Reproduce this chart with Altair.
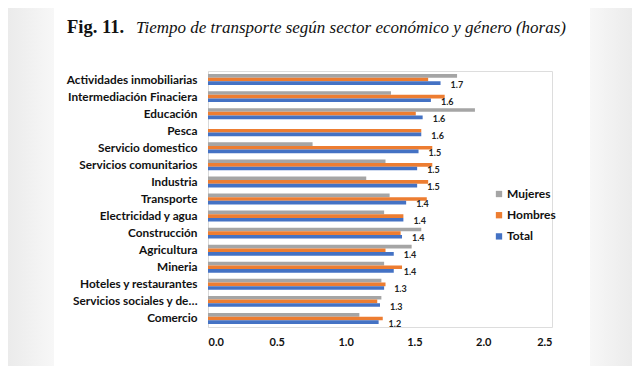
import altair as alt
import pandas as pd

sectors = [
    "Actividades inmobiliarias", "Intermediación Finaciera", "Educación", "Pesca",
    "Servicio domestico", "Servicios comunitarios", "Industria", "Transporte",
    "Electricidad y agua", "Construcción", "Agricultura", "Mineria",
    "Hoteles y restaurantes", "Servicios sociales y de…", "Comercio",
]
mujeres = [1.81, 1.33, 1.94, None, 0.76, 1.29, 1.15, 1.32, 1.28, 1.55, 1.48, 1.28, 1.26, 1.26, 1.10]
hombres = [1.60, 1.72, 1.51, 1.55, 1.63, 1.63, 1.60, 1.59, 1.42, 1.40, 1.29, 1.41, 1.29, 1.23, 1.27]
total = [1.69, 1.62, 1.56, 1.55, 1.53, 1.52, 1.52, 1.44, 1.42, 1.41, 1.35, 1.35, 1.28, 1.25, 1.24]
total_labels = ["1.7", "1.6", "1.6", "1.6", "1.5", "1.5", "1.5", "1.4", "1.4", "1.4", "1.4", "1.4", "1.3", "1.3", "1.2"]
series_names = ["Mujeres", "Hombres", "Total"]
series_colors = ["#A5A5A5", "#ED7D31", "#4472C4"]
x_ticks = [0, 0.5, 1.0, 1.5, 2.0, 2.5]
title_bold = "Fig. 11."
title_italic = "Tiempo de transporte según sector económico y género (horas)"

rows = []
for name, vals in zip(series_names, [mujeres, hombres, total]):
    for s, v in zip(sectors, vals):
        if v is not None:
            rows.append({"sector": s, "serie": name, "valor": v})
df = pd.DataFrame(rows)
lab_df = pd.DataFrame({"sector": sectors, "serie": "Total", "valor": total, "label": total_labels})

x_scale = alt.Scale(domain=[0, 2.5], nice=False, zero=True, padding=0)

y_enc = alt.Y("sector:N", sort=sectors, title=None,
              scale=alt.Scale(paddingInner=0.36, paddingOuter=0.18),
              axis=alt.Axis(labelFont="Lato", labelFontWeight="bold", labelFontSize=11.8,
                            labelColor="#111", ticks=False, labelPadding=11,
                            domainColor="#d9d9d9", labelLimit=200))
yoff = alt.YOffset("serie:N", sort=series_names, scale=alt.Scale(paddingInner=0, paddingOuter=0))

bars = alt.Chart(df).mark_bar().encode(
    x=alt.X("valor:Q", title=None, scale=x_scale,
            axis=alt.Axis(values=x_ticks, format=".1f", labelFont="Lato", labelFontWeight="bold",
                          labelFontSize=11, labelColor="#111", ticks=False, domain=False,
                          grid=False, labelPadding=9)),
    y=y_enc,
    yOffset=yoff,
    color=alt.Color("serie:N", sort=series_names,
                    scale=alt.Scale(domain=series_names, range=series_colors),
                    legend=alt.Legend(title=None, orient="none", legendX=285, legendY=117,
                                      symbolType="square", symbolSize=40, symbolStrokeWidth=0,
                                      labelOffset=2,
                                      labelFont="Lato", labelFontWeight="bold", labelFontSize=12,
                                      labelColor="#111", rowPadding=9.2)),
)

labels = alt.Chart(lab_df).mark_text(align="left", baseline="middle", dx=10, dy=1.5,
                                     font="Lato", fontWeight="bold", fontSize=9, color="#222").encode(
    x=alt.X("valor:Q", scale=x_scale), y=alt.Y("sector:N", sort=sectors),
    yOffset=alt.YOffset("serie:N", sort=series_names),
    text="label:N",
)

one = pd.DataFrame({"a": [0]})
left_shade = alt.Chart(one).mark_rect(
    color=alt.LinearGradient(gradient="linear", x1=0, x2=1, y1=0, y2=0,
                             stops=[alt.GradientStop(color="#ebebeb", offset=0),
                                    alt.GradientStop(color="#f7f7f7", offset=1)])
).encode(x=alt.value(-200), x2=alt.value(-154), y=alt.value(-64), y2=alt.value(295))
right_shade = alt.Chart(one).mark_rect(
    color=alt.LinearGradient(gradient="linear", x1=0, x2=1, y1=0, y2=0,
                             stops=[alt.GradientStop(color="#f7f7f7", offset=0),
                                    alt.GradientStop(color="#ebebeb", offset=1)])
).encode(x=alt.value(382), x2=alt.value(424), y=alt.value(-64), y2=alt.value(295))

t1 = alt.Chart(pd.DataFrame({"t": [title_bold]})).mark_text(
    align="left", baseline="alphabetic", font="Liberation Serif", fontWeight="bold", fontSize=18.5, color="#111"
).encode(x=alt.value(-141), y=alt.value(-38), text="t:N")
t2 = alt.Chart(pd.DataFrame({"t": [title_italic]})).mark_text(
    align="left", baseline="alphabetic", font="Liberation Serif", fontStyle="italic", fontSize=17, color="#111"
).encode(x=alt.value(-72), y=alt.value(-38), text="t:N")

chart = alt.layer(left_shade, right_shade, bars, labels, t1, t2).properties(
    width=344, height=256,
    padding={"left": 200, "top": 63, "right": 80, "bottom": 39},
    autosize=alt.AutoSizeParams(type="none"),
).configure_view(stroke=None).configure(background="white")

chart.save("out.html", embed_options={"renderer": "svg", "actions": False})
